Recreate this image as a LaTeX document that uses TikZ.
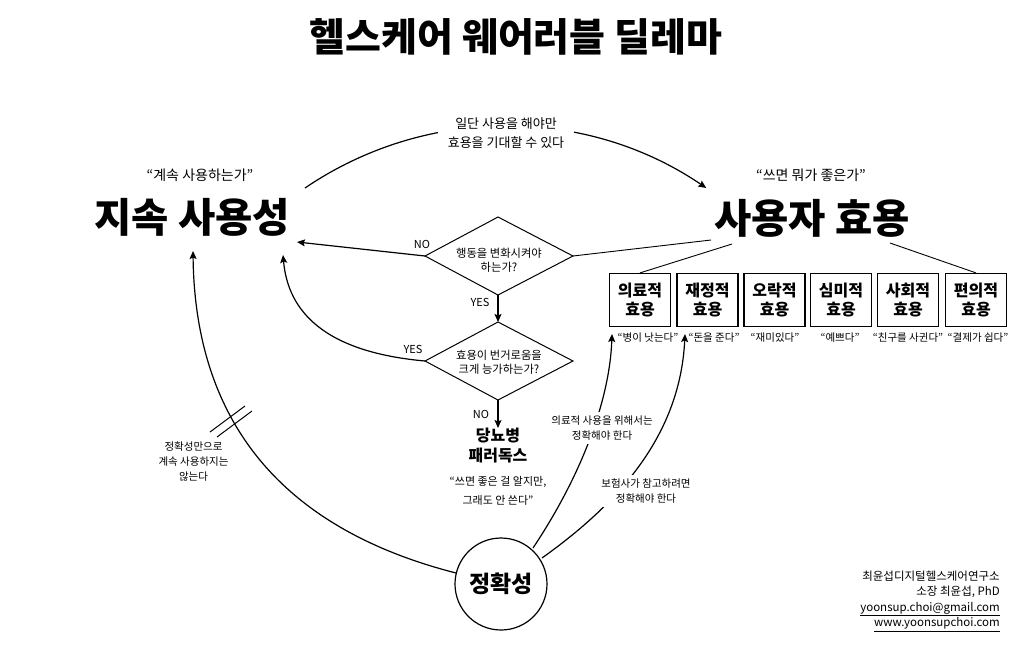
\documentclass[tikz,border=0pt]{standalone}
\usepackage{fontspec}
\setmainfont{Noto Sans CJK KR}
\usetikzlibrary{arrows.meta,calc}
\begin{document}
\begin{tikzpicture}[x=1pt,y=-1pt,
  conn/.style={line width=1.2pt},
  thin conn/.style={line width=0.9pt},
  arr/.style={conn,-{Stealth[length=8pt,width=7pt,inset=1.5pt]}},
  small/.style={font=\fontsize{10.5}{15}\selectfont, align=center, inner sep=1pt},
  mid/.style={font=\fontsize{11}{19}\selectfont, align=center, inner sep=1pt},
  quote14/.style={font=\fontsize{14}{17}\selectfont, inner sep=1pt},
  big/.style={font=\bfseries\fontsize{40.5}{46}\selectfont, inner sep=0pt},
  boxnode/.style={draw, line width=1.2pt, minimum width=61pt, minimum height=53pt, inner sep=0pt, align=center, font=\bfseries\fontsize{16}{19}\selectfont},
  dia/.style={line width=1pt},
  gap/.style={fill=white}
]
\useasboundingbox (0,0) rectangle (1024,651);

% title
\node[font=\bfseries\fontsize{39}{44}\selectfont, inner sep=0pt] (title) at (516,37) {헬스케어 웨어러블 딜레마};

% main concepts
\node[quote14] (q1) at (200,175) {“계속 사용하는가”};
\node[big] (js) at (192,217) {지속 사용성};
\node[quote14] (q2) at (811,175) {“쓰면 뭐가 좋은가”};
\node[big] (ue) at (812,218) {사용자 효용};

% top arc
\coordinate (arcS) at (305,188);
\draw[arr] (arcS) arc[start angle=-124.2, end angle=-55.8, radius=357];
\node[gap, font=\fontsize{13}{19}\selectfont, align=center, inner xsep=10pt, inner ysep=3pt] (topl) at (506,133) {일단 사용을 해야만\\효용을 기대할 수 있다};

% diamonds
\coordinate (d1n) at (498,217); \coordinate (d1e) at (573,256);
\coordinate (d1s) at (498,295); \coordinate (d1w) at (425,256);
\draw[dia] (d1n) -- (d1e) -- (d1s) -- (d1w) -- cycle;
\node[mid, font=\fontsize{11.3}{14}\selectfont] (d1) at (499,260) {행동을 변화시켜야\\하는가?};

\coordinate (d2n) at (498,322); \coordinate (d2e) at (573,361);
\coordinate (d2s) at (498,400); \coordinate (d2w) at (425,361);
\draw[dia] (d2n) -- (d2e) -- (d2s) -- (d2w) -- cycle;
\node[mid, font=\fontsize{11.3}{14}\selectfont] (d2) at (499,362) {효용이 번거로움을\\크게 능가하는가?};

% connectors around diamonds
\coordinate (ueL) at (711,240);
\draw[thin conn] (ueL) -- (d1e);
\coordinate (jsR) at (297,242);
\draw[arr] (d1w) -- (jsR);
\node[mid] (no1) at (422,244) {NO};

\draw[arr] (d1s) -- (d2n);
\node[mid] (yes1) at (480,302) {YES};

\coordinate (jsB2) at (283,255);
\draw[arr] (d2w) .. controls (325,352) and (288,312) .. (jsB2);
\node[mid] (yes2) at (413,349) {YES};

\node[font=\bfseries\fontsize{16}{20}\selectfont, align=center, inner sep=0pt, anchor=north] (dp) at (498,428) {당뇨병\\패러독스};
\draw[arr] (d2s) -- (dp.north);
\node[mid] (no2) at (481,414) {NO};
\node[mid] (dq) at (498,490.5) {“쓰면 좋은 걸 알지만,\\그래도 안 쓴다”};

% utility boxes
\node[boxnode] (b1) at (640,300) {의료적\\효용};
\node[boxnode] (b2) at (707.5,300) {재정적\\효용};
\node[boxnode] (b3) at (774.5,300) {오락적\\효용};
\node[boxnode] (b4) at (841,300) {심미적\\효용};
\node[boxnode] (b5) at (908,300) {사회적\\효용};
\node[boxnode] (b6) at (976,300) {편의적\\효용};

\node[small] (t1) at (648,338) {“병이 낫는다”};
\node[small] (t2) at (714,338) {“돈을 준다”};
\node[small] (t3) at (775,338) {“재미있다”};
\node[small] (t4) at (840,338) {“예쁘다”};
\node[small] (t5) at (908,338) {“친구를 사귄다”};
\node[small] (t6) at (978,338) {“결제가 쉽다”};

\coordinate (ueB1) at (732,244);
\coordinate (ueB6) at (890,243);
\draw[thin conn] (ueB1) -- (b1.north);
\draw[thin conn] (ueB6) -- (b6.north);

% accuracy
\node[circle, draw, line width=1.2pt, minimum size=92pt, inner sep=0pt, font=\bfseries\fontsize{23}{27}\selectfont] (acc) at (501,584) {정확성};
\coordinate (c1) at (456,573);
\coordinate (c2) at (533,548);
\coordinate (c3) at (542,558);
\coordinate (jsB) at (193,251);
\coordinate (b1B) at (612,334);
\coordinate (b2B) at (685,334);

\draw[arr] (c1) .. controls (280,528) and (195,420) .. (jsB);
\draw[line width=1pt] (210,432) -- (245,406);
\draw[line width=1pt] (217,437) -- (252,411);
\node[small] (l1) at (193.5,462) {정확성만으로\\계속 사용하지는\\않는다};

\draw[arr] (c2) .. controls (585,470) and (610,395) .. (b1B);
\node[small, gap, inner sep=4pt] (l2) at (602,428) {의료적 사용을 위해서는\\정확해야 한다};

\draw[arr] (c3) .. controls (612,508) and (680,440) .. (b2B);
\node[small, gap, inner sep=4pt] (l3) at (646,491) {보험사가 참고하려면\\정확해야 한다};

% footer
\node[anchor=east, align=right, inner sep=0pt, font=\fontsize{11.5}{15.5}\selectfont] (foot) at (1000,601) {최윤섭디지털헬스케어연구소\\소장 최윤섭, PhD\\\underline{yoonsup.choi@gmail.com}\\\underline{www.yoonsupchoi.com}};
\end{tikzpicture}
\end{document}
